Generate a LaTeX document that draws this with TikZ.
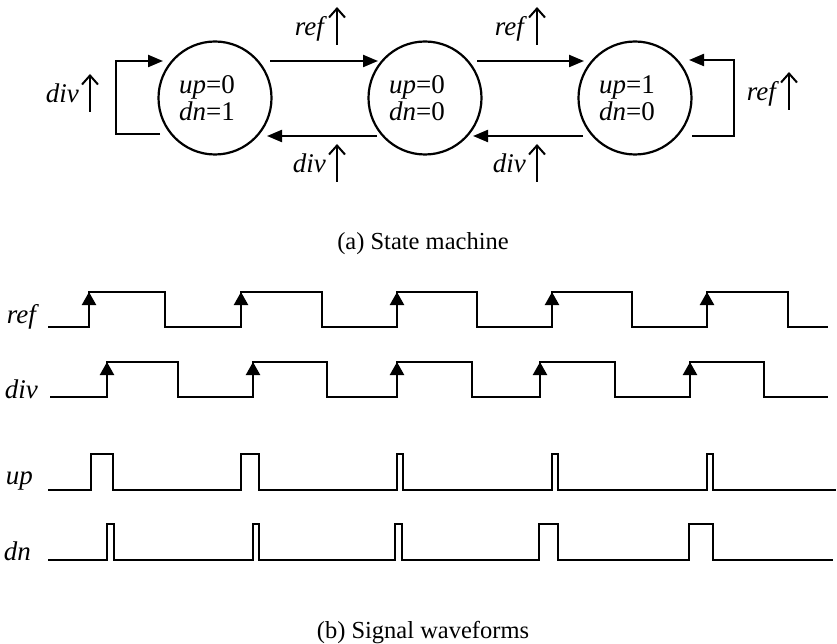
\documentclass[tikz,border=0pt]{standalone}
\usepackage{fontspec}
\setmainfont{Liberation Serif}
\usetikzlibrary{arrows.meta,calc}

\newcommand{\lblfont}{\fontsize{27}{30}\selectfont\itshape}
\newcommand{\statefont}{\fontsize{27}{27}\selectfont}
\newcommand{\capfont}{\fontsize{24.5}{28}\selectfont}

\begin{document}
\begin{tikzpicture}[x=1pt,y=-1pt,node distance=210pt,
    state/.style={circle,draw,line width=2.2pt,minimum size=113pt,inner sep=0pt,align=left,font=\statefont},
    trans/.style={line width=2.2pt,-{Triangle[length=15pt,width=12pt]}},
    upar/.style={line width=2pt,-{Straight Barb[length=9pt,width=16pt]}},
    lbl/.style={font=\lblfont,inner sep=0pt},
    capt/.style={font=\capfont,inner sep=0pt},
    wave/.style={line width=2.2pt,line join=miter},
    rise/.style={line width=2.2pt,-{Triangle[length=13pt,width=14pt]}}]
\useasboundingbox (0,0) rectangle (837,644);

% (a) state machine
\node[state] (S1) at (215,98) {\textit{up}=0\hspace*{16pt}\\\textit{dn}=1};
\node[state] (S2) [right of=S1] {\textit{up}=0\hspace*{16pt}\\\textit{dn}=0};
\node[state] (S3) [right of=S2] {\textit{up}=1\hspace*{16pt}\\\textit{dn}=0};

\draw[trans] ($(S1)+(55,-37)$) -- ($(S2)+(-47,-37)$);
\draw[trans] ($(S2)+(-48,38)$) -- ($(S1)+(52,38)$);
\draw[trans] ($(S2)+(52,-37)$) -- ($(S3)+(-51,-37)$);
\draw[trans] ($(S3)+(-52,38)$) -- ($(S2)+(48,38)$);
\draw[trans] ($(S1)+(-55,36)$) -| ($(S1)+(-99,-37)$) -- ($(S1)+(-52,-37)$);
\draw[trans] ($(S3)+(57,38)$) -| ($(S3)+(99,-38)$) -- ($(S3)+(54,-38)$);

\node[lbl,anchor=base east] (ref12) at (324,36) {ref};
\draw[upar] ($(ref12.base east)+(13,9)$) -- ++(0,-38);
\node[lbl,anchor=base east] (div12) at (326,173) {div};
\draw[upar] ($(div12.base east)+(11,9)$) -- ++(0,-38);
\node[lbl,anchor=base east] (ref23) at (524,36) {ref};
\draw[upar] ($(ref23.base east)+(13,9)$) -- ++(0,-38);
\node[lbl,anchor=base east] (div23) at (526,173) {div};
\draw[upar] ($(div23.base east)+(11,9)$) -- ++(0,-38);
\node[lbl,anchor=base east] (refloop) at (776,101) {ref};
\draw[upar] ($(refloop.base east)+(13,9)$) -- ++(0,-38);
\node[lbl,anchor=base east] (divloop) at (79,103) {div};
\draw[upar] ($(divloop.base east)+(11,9)$) -- ++(0,-38);

\node[capt,anchor=base] (capa) at (423,249) {(a) State machine};

% (b) waveforms
\node[lbl,anchor=base east] (wref) at (36,323) {ref};
\draw[wave] (48,327) \foreach \r/\f in {89/165,241/322,397/477,552/632,707/788}
    { -- (\r,327) -- (\r,292) -- (\f,292) -- (\f,327) } -- (828,327);
\foreach \r in {89,241,397,552,707} \draw[rise] (\r,312) -- (\r,292);

\node[lbl,anchor=base east] (wdiv) at (38,398) {div};
\draw[wave] (50,397) \foreach \r/\f in {107/178,253/327,397/472,540/615,690/764}
    { -- (\r,397) -- (\r,362) -- (\f,362) -- (\f,397) } -- (828,397);
\foreach \r in {107,253,397,540,690} \draw[rise] (\r,382) -- (\r,362);

\node[lbl,anchor=base east] (wup) at (33,484) {up};
\draw[wave] (48,490) \foreach \a/\b in {91/113,241/259,397/403,552/558,707/713}
    { -- (\a,490) -- (\a,454) -- (\b,454) -- (\b,490) } -- (836,490);

\node[lbl,anchor=base east] (wdn) at (31,560) {dn};
\draw[wave] (48,560) \foreach \a/\b in {107/114,253/259,395/402,539/558,689/713}
    { -- (\a,560) -- (\a,524) -- (\b,524) -- (\b,560) } -- (833,560);

\node[capt,anchor=base] (capb) at (423,638) {(b) Signal waveforms};
\end{tikzpicture}
\end{document}
